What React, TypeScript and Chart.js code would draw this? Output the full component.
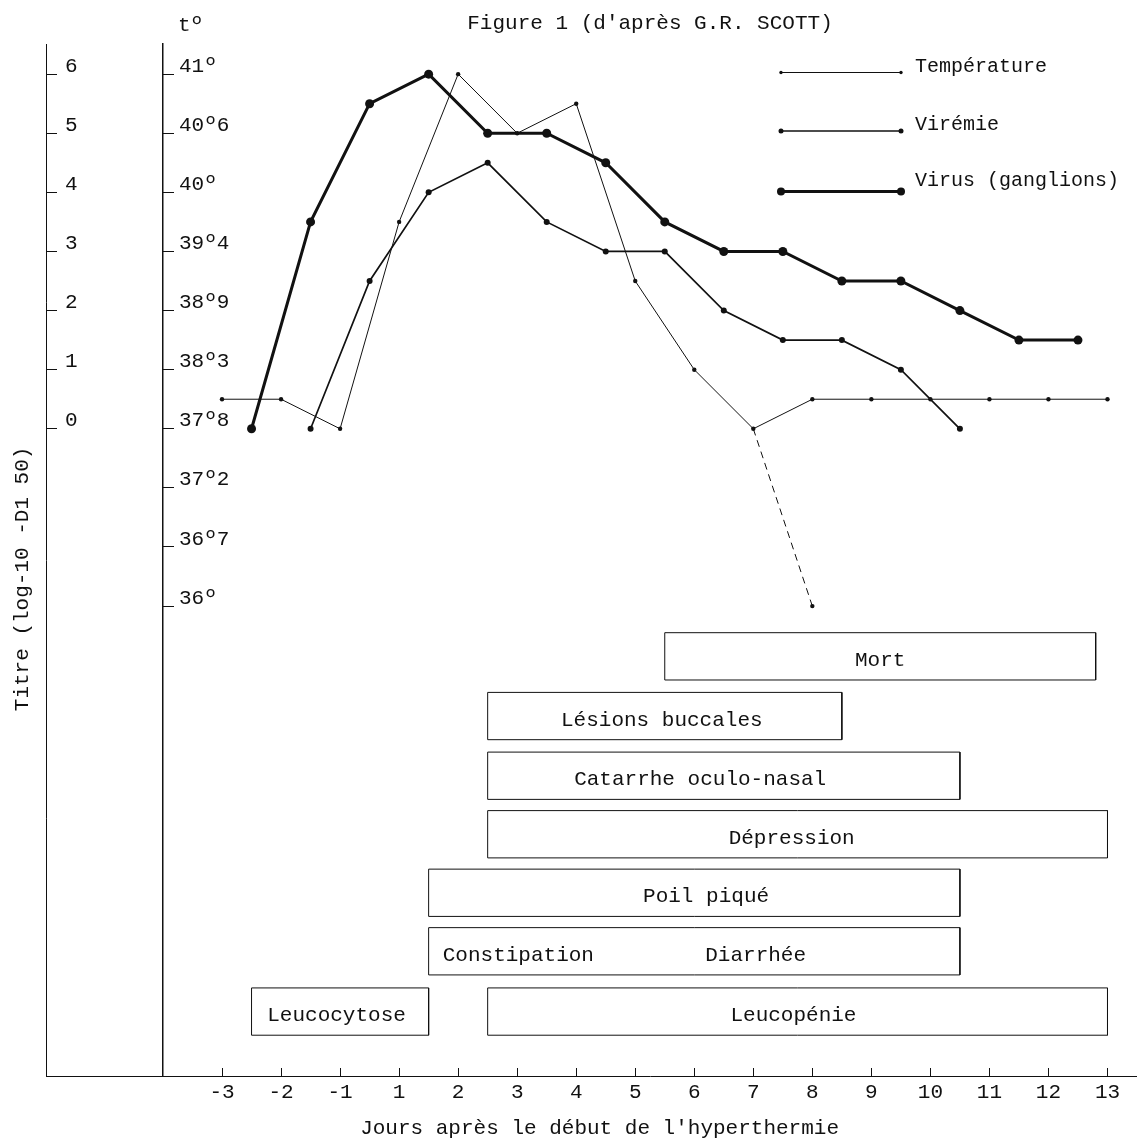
import { useEffect, useRef } from 'react';
import { Chart, registerables } from 'chart.js';

Chart.register(...registerables);

// ---------- data ----------
// x positions are slots on the day axis (slot 0 = day -3 ... slot 15 = day 13; day 0 is not shown)
const DAY_TICK_POS = [0, 1, 2, 3, 4, 5, 6, 7, 8, 9, 10, 11, 12, 13, 14, 15];
const DAY_TICK_LABELS = ['-3', '-2', '-1', '1', '2', '3', '4', '5', '6', '7', '8', '9', '10', '11', '12', '13'];

const TITRE_TICK_POS = [0, 1, 2, 3, 4, 5, 6];
const TITRE_TICK_LABELS = ['0', '1', '2', '3', '4', '5', '6'];

const TEMP_TICK_POS = [-3, -2, -1, 0, 1, 2, 3, 4, 5, 6];
const TEMP_TICK_LABELS = ['36º', '36º7', '37º2', '37º8', '38º3', '38º9', '39º4', '40º', '40º6', '41º'];

// Température (in t° axis graduations)
const TEMP_X = [0, 1, 2, 3, 4, 5, 6, 7, 8, 9, 10, 11, 12, 13, 14, 15];
const TEMP_Y = [0.5, 0.5, 0, 3.5, 6, 5, 5.5, 2.5, 1, 0, 0.5, 0.5, 0.5, 0.5, 0.5, 0.5];
// dashed drop (death)
const TEMP_DEATH_X = [9, 10];
const TEMP_DEATH_Y = [0, -3];

// Virémie (log10 titre)
const VIREMIE_X = [1.5, 2.5, 3.5, 4.5, 5.5, 6.5, 7.5, 8.5, 9.5, 10.5, 11.5, 12.5];
const VIREMIE_Y = [0, 2.5, 4, 4.5, 3.5, 3, 3, 2, 1.5, 1.5, 1, 0];

// Virus (ganglions) (log10 titre)
const VIRUS_X = [0.5, 1.5, 2.5, 3.5, 4.5, 5.5, 6.5, 7.5, 8.5, 9.5, 10.5, 11.5, 12.5, 13.5, 14.5];
const VIRUS_Y = [0, 3.5, 5.5, 6, 5, 5, 4.5, 3.5, 3, 3, 2.5, 2.5, 2, 1.5, 1.5];

// Symptom periods (boxes)
const BOX_START = [7.5, 4.5, 4.5, 4.5, 3.5, 3.5, 0.5, 4.5];
const BOX_END = [14.8, 10.5, 12.5, 15, 12.5, 12.5, 3.5, 15];
const BOX_ROW = [-3.85, -4.86, -5.87, -6.86, -7.85, -8.84, -9.86, -9.86];

const SYMPTOM_TEXTS = ['Mort', 'Lésions buccales', 'Catarrhe oculo-nasal', 'Dépression', 'Poil piqué', 'Constipation', 'Diarrhée', 'Leucocytose', 'Leucopénie'];
const SYMPTOM_TEXT_X = [11.15, 7.45, 8.1, 9.65, 8.2, 5.02, 9.04, 1.94, 9.68];
const SYMPTOM_TEXT_ROW = [-3.85, -4.86, -5.87, -6.86, -7.85, -8.84, -8.84, -9.86, -9.86];

const TITLE = "Figure 1 (d'après G.R. SCOTT)";
const X_TITLE = "Jours après le début de l'hyperthermie";
const Y_TITLE = 'Titre (log-10 -D1 50)';
const TEMP_UNIT = 'tº';

// ---------- style ----------
const INK = '#111111';
const FONT = '"Liberation Mono", "Courier New", monospace';
const Y_MIN = -10.95;
const Y_MAX = 6.51;
const BOX_HALF = 0.4;

const extrasPlugin = {
  id: 'figureExtras',
  afterDraw(chart: any) {
    const { ctx, chartArea, scales } = chart;
    const xs = scales.x;
    const yv = scales.yV;
    ctx.save();
    // continuation of the day axis up to the titre axis
    ctx.strokeStyle = INK;
    ctx.lineWidth = 1;
    const yb = Math.round(chartArea.bottom) + 0.5;
    ctx.beginPath();
    ctx.moveTo(yv.right, yb);
    ctx.lineTo(chartArea.left, yb);
    ctx.stroke();

    ctx.fillStyle = INK;
    ctx.font = `21px ${FONT}`;
    ctx.textAlign = 'left';
    ctx.textBaseline = 'alphabetic';
    ctx.fillText(TEMP_UNIT, chartArea.left + 15, 31);

    // symptom labels
    ctx.textAlign = 'center';
    ctx.textBaseline = 'middle';
    SYMPTOM_TEXTS.forEach((t, i) => {
      ctx.fillText(t, xs.getPixelForValue(SYMPTOM_TEXT_X[i]), yv.getPixelForValue(SYMPTOM_TEXT_ROW[i]) + 4);
    });

    // legend
    const legendRows = [
      { ds: 0, lineY: 72.5, textY: 72 },
      { ds: 2, lineY: 131, textY: 130 },
      { ds: 3, lineY: 191.5, textY: 186 },
    ];
    ctx.font = `20px ${FONT}`;
    ctx.textAlign = 'left';
    ctx.textBaseline = 'alphabetic';
    legendRows.forEach((r) => {
      const d: any = chart.data.datasets[r.ds];
      const x0 = 781;
      const x1 = 901;
      ctx.strokeStyle = INK;
      ctx.lineWidth = d.borderWidth;
      ctx.beginPath();
      ctx.moveTo(x0, r.lineY);
      ctx.lineTo(x1, r.lineY);
      ctx.stroke();
      const rad = Math.max(1.5, d.pointRadius - 0.5);
      [x0, x1].forEach((px) => {
        ctx.beginPath();
        ctx.arc(px, r.lineY, rad, 0, Math.PI * 2);
        ctx.fill();
      });
      ctx.fillText(d.label, 915, r.textY);
    });
    ctx.restore();
  },
};

export default function App() {
  const ref = useRef<HTMLCanvasElement | null>(null);

  useEffect(() => {
    const canvas = ref.current;
    if (!canvas) return;

    const boxDatasets = BOX_START.map((s, i) => {
      const e = BOX_END[i];
      const r = BOX_ROW[i];
      return {
        label: 'box' + i,
        data: [
          { x: s, y: r + BOX_HALF },
          { x: e, y: r + BOX_HALF },
          { x: e, y: r - BOX_HALF },
          { x: s, y: r - BOX_HALF },
          { x: s, y: r + BOX_HALF },
        ],
        yAxisID: 'yV',
        borderColor: INK,
        borderWidth: 1,
        pointRadius: 0,
        fill: false,
        tension: 0,
      };
    });

    const tickFont = { family: FONT, size: 21 };

    const chart = new Chart(canvas, {
      type: 'line',
      data: {
        datasets: [
          {
            label: 'Température',
            data: TEMP_X.map((x, i) => ({ x, y: TEMP_Y[i] })),
            yAxisID: 'yT',
            borderColor: INK,
            backgroundColor: INK,
            borderWidth: 1,
            pointRadius: 2.2,
            pointBorderWidth: 0,
            pointBackgroundColor: INK,
            tension: 0,
          },
          {
            label: 'Température (mort)',
            data: TEMP_DEATH_X.map((x, i) => ({ x, y: TEMP_DEATH_Y[i] })),
            yAxisID: 'yT',
            borderColor: INK,
            borderWidth: 1,
            borderDash: [7, 5],
            pointRadius: [0, 2.2],
            pointBorderWidth: 0,
            pointBackgroundColor: INK,
            tension: 0,
          },
          {
            label: 'Virémie',
            data: VIREMIE_X.map((x, i) => ({ x, y: VIREMIE_Y[i] })),
            yAxisID: 'yV',
            borderColor: INK,
            backgroundColor: INK,
            borderWidth: 1.7,
            pointRadius: 3,
            pointBorderWidth: 0,
            pointBackgroundColor: INK,
            tension: 0,
          },
          {
            label: 'Virus (ganglions)',
            data: VIRUS_X.map((x, i) => ({ x, y: VIRUS_Y[i] })),
            yAxisID: 'yV',
            borderColor: INK,
            backgroundColor: INK,
            borderWidth: 3,
            pointRadius: 4.5,
            pointBorderWidth: 0,
            pointBackgroundColor: INK,
            tension: 0,
          },
          ...boxDatasets,
        ] as any,
      },
      options: {
        responsive: false,
        animation: false,
        events: [],
        layout: { padding: 0, autoPadding: false },
        plugins: {
          legend: { display: false },
          tooltip: { enabled: false },
          title: {
            display: true,
            text: TITLE,
            fullSize: false,
            color: INK,
            font: { family: FONT, size: 21, weight: 'normal' },
            padding: { top: 11, bottom: 7.8 },
          },
        },
        scales: {
          x: {
            type: 'linear',
            position: 'bottom',
            min: -1,
            max: 15.5,
            afterBuildTicks: (s: any) => {
              s.ticks = DAY_TICK_POS.map((v) => ({ value: v }));
            },
            afterFit: (s: any) => {
              s.height = 65;
              s.paddingLeft = 0;
              s.paddingRight = 0;
            },
            ticks: {
              autoSkip: false,
              maxRotation: 0,
              padding: 11.4,
              color: INK,
              font: tickFont,
              callback: (_v: any, i: number) => DAY_TICK_LABELS[i],
            },
            grid: { drawOnChartArea: false, drawTicks: true, tickLength: -8, color: INK, lineWidth: 1 },
            border: { display: true, color: INK, width: 1 },
            title: {
              display: true,
              text: X_TITLE + '        ',
              color: INK,
              font: { family: FONT, size: 21 },
              padding: { top: 0, bottom: 0 },
            },
          },
          yT: {
            type: 'linear',
            position: 'left',
            weight: 0,
            min: Y_MIN,
            max: Y_MAX,
            afterBuildTicks: (s: any) => {
              s.ticks = TEMP_TICK_POS.map((v) => ({ value: v }));
            },
            afterFit: (s: any) => {
              s.width = 117;
            },
            ticks: {
              mirror: true,
              padding: 16,
              labelOffset: -8,
              color: INK,
              font: tickFont,
              callback: (_v: any, i: number) => TEMP_TICK_LABELS[i],
            },
            grid: { drawOnChartArea: false, drawTicks: true, tickLength: -11, color: INK, lineWidth: 1 },
            border: { display: true, color: INK, width: 1.5 },
          },
          yV: {
            type: 'linear',
            position: 'left',
            weight: 1,
            min: Y_MIN,
            max: Y_MAX,
            afterBuildTicks: (s: any) => {
              s.ticks = TITRE_TICK_POS.map((v) => ({ value: v }));
            },
            afterFit: (s: any) => {
              s.width = 46;
            },
            ticks: {
              mirror: true,
              padding: 19,
              labelOffset: -8,
              color: INK,
              font: tickFont,
              callback: (_v: any, i: number) => TITRE_TICK_LABELS[i],
            },
            grid: { drawOnChartArea: false, drawTicks: true, tickLength: -11, color: INK, lineWidth: 1 },
            border: { display: true, color: INK, width: 1 },
            title: {
              display: true,
              text: Y_TITLE + '   ',
              color: INK,
              font: { family: FONT, size: 21 },
              padding: { top: 10, bottom: 0 },
            },
          },
        },
      } as any,
      plugins: [extrasPlugin],
    });

    return () => chart.destroy();
  }, []);

  return (
    <div style={{ position: 'absolute', left: 0, top: 0, width: 1137, height: 1141, background: '#ffffff' }}>
      <canvas ref={ref} width={1137} height={1141} style={{ display: 'block' }} />
    </div>
  );
}
